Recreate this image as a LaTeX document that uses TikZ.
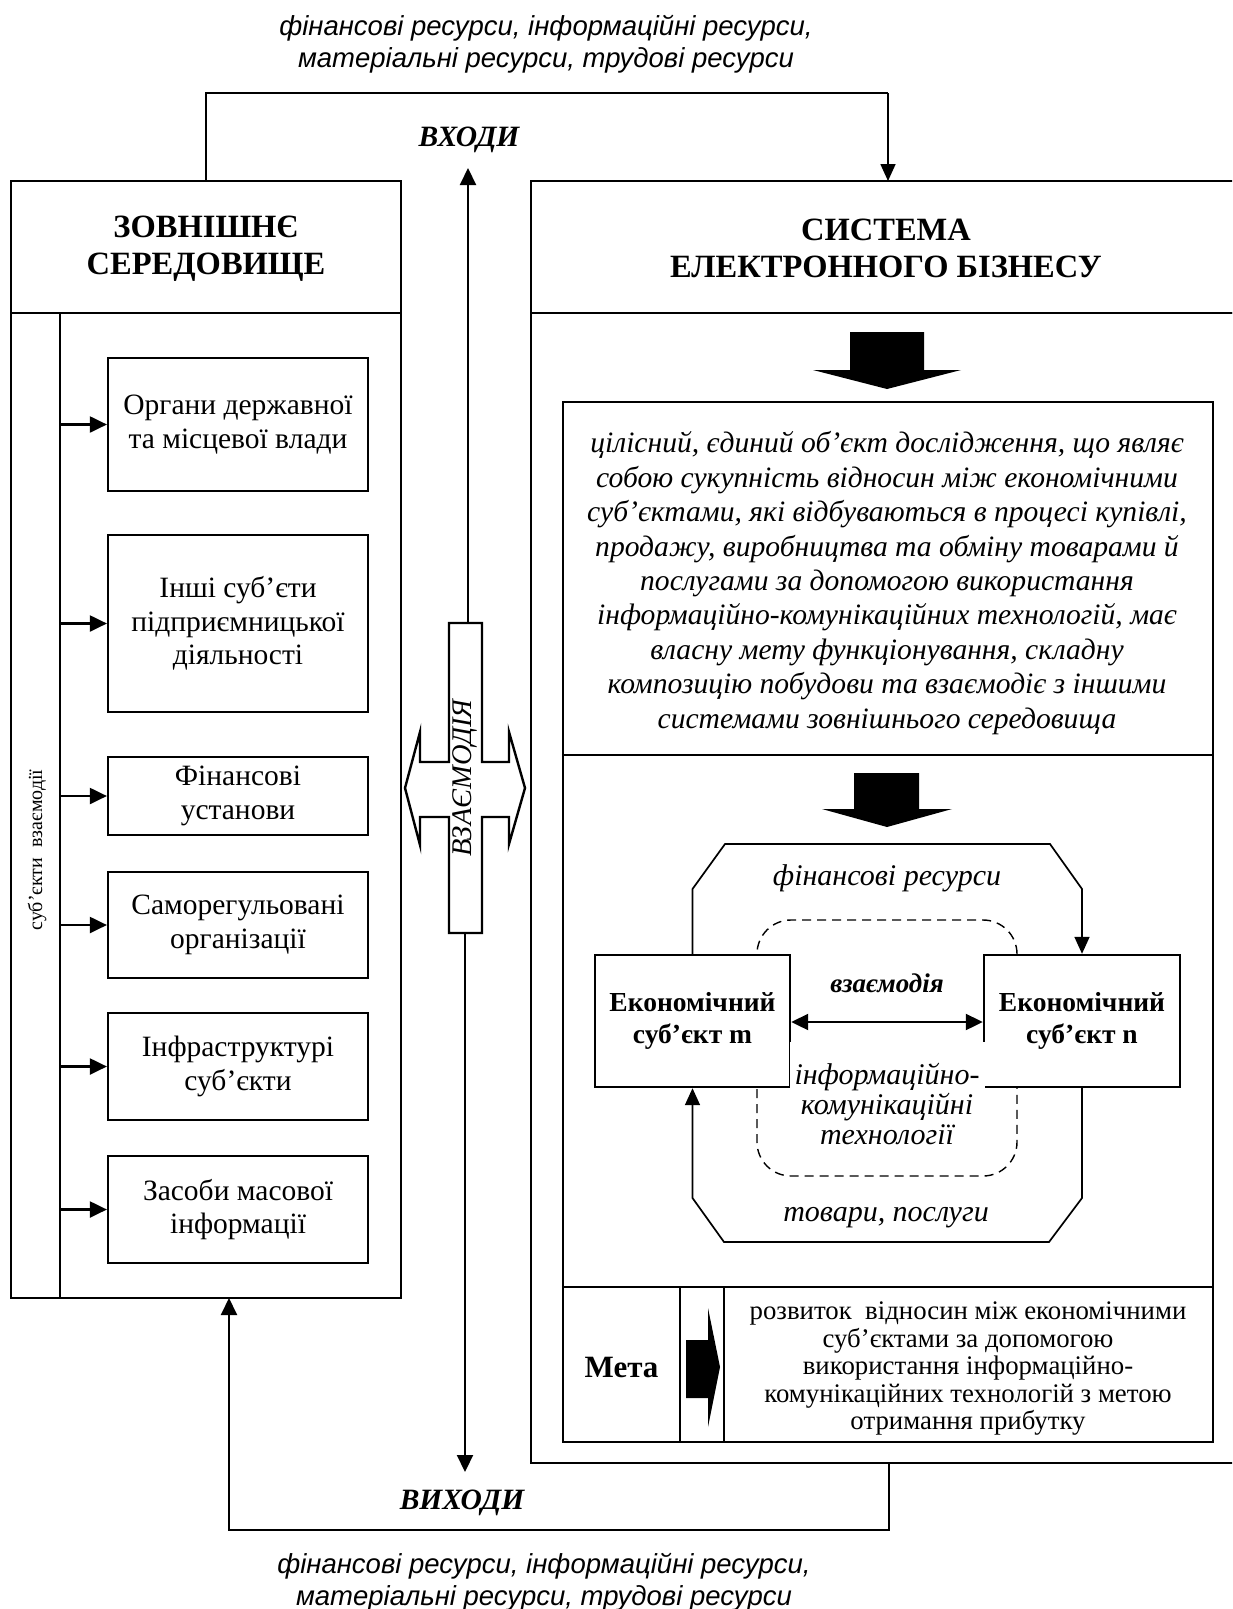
\documentclass[tikz,border=0pt]{standalone}
\usepackage{fontspec}
\setmainfont{Liberation Serif}
\newfontfamily\sansf{Liberation Sans}
\usetikzlibrary{arrows.meta}
\begin{document}
\begin{tikzpicture}[x=1pt,y=-1pt,
  every node/.style={inner sep=0pt, align=center},
  outerbox/.style={draw, line width=2.6pt, minimum width=#1},
  outerbox/.default=390pt,
  ibox/.style={draw, line width=2.2pt, fill=white},
  conn/.style={line width=2.1pt},
  thinconn/.style={line width=1.7pt},
  arr/.style={conn, -{Triangle[length=17pt,width=16pt]}},
  thinarr/.style={thinconn, -{Triangle[length=17pt,width=15pt]}},
  darr/.style={conn, {Triangle[length=17pt,width=16pt]}-{Triangle[length=17pt,width=16pt]}},
  ressf/.style={font=\sansf\itshape\fontsize{27.5}{32.5}\selectfont},
  hdr/.style={font=\bfseries\fontsize{32.5}{37}\selectfont},
  flow/.style={font=\bfseries\itshape\fontsize{29.5}{32}\selectfont},
  envtxt/.style={font=\fontsize{29.5}{33.5}\selectfont},
  desc/.style={font=\itshape\fontsize{29.6}{34.4}\selectfont},
  econ/.style={font=\bfseries\fontsize{27.5}{32}\selectfont},
  lbl/.style={font=\itshape\fontsize{30}{30}\selectfont},
  goal/.style={font=\fontsize{26.8}{27.5}\selectfont},
  bigarrow/.style={fill=black}
]
\useasboundingbox (0,0) rectangle (1232,1609);
\clip (0,0) rectangle (1232,1609);

% ---------- top / bottom resource texts ----------
\node[ressf] (resin) at (546,44) {фінансові ресурси, інформаційні ресурси,\\матеріальні ресурси, трудові ресурси};
\node[ressf] (resout) at (544,1582) {фінансові ресурси, інформаційні ресурси,\\матеріальні ресурси, трудові ресурси};

% ---------- left panel: external environment ----------
\node[outerbox, minimum height=132pt] (envhead) at (206,247) {};
\node[outerbox, minimum height=985pt] (envbody) at (206,805.5) {};
\node[hdr] (envtitle) at (206,248.5) {ЗОВНІШНЄ\\СЕРЕДОВИЩЕ};
\coordinate (spine top) at (60,313);
\coordinate (spine bot) at (60,1298);
\draw[line width=2.4pt] (spine top) -- (spine bot);
\node[font=\fontsize{20}{22}\selectfont, rotate=90] (subj) at (37,850) {суб’єкти\ \ взаємодії};

\node[ibox, envtxt, minimum width=260pt, minimum height=133pt] (b1) at (238,424.5) {Органи державної\\та місцевої влади};
\node[ibox, envtxt, minimum width=260pt, minimum height=177pt] (b2) at (238,623.5) {Інші суб’єти\\підприємницької\\діяльності};
\node[ibox, envtxt, minimum width=260pt, minimum height=78pt] (b3) at (238,796) {Фінансові\\установи};
\node[ibox, envtxt, minimum width=260pt, minimum height=106pt] (b4) at (238,925) {Саморегульовані\\організації};
\node[ibox, envtxt, minimum width=260pt, minimum height=107pt] (b5) at (238,1066.5) {Інфраструктурі\\суб’єкти};
\node[ibox, envtxt, minimum width=260pt, minimum height=107pt] (b6) at (238,1209.5) {Засоби масової\\інформації};
\foreach \b in {b1,b2,b3,b4,b5,b6}{
  \draw[arr] (spine top |- \b.west) -- (\b.west);
}

% ---------- right panel: e-business system ----------
\node[outerbox=719pt, minimum height=132pt] (syshead) at (890.5,247) {};
\node[outerbox=719pt, minimum height=1150pt] (sysbody) at (890.5,888) {};
\node[hdr] (systitle) at (886,248.5) {СИСТЕМА\\ЕЛЕКТРОННОГО БІЗНЕСУ};

\node[draw, line width=2.4pt, minimum width=650pt, minimum height=1040pt] (inner) at (888,922) {};
\draw[line width=2.4pt] (inner.west |- 0,755) coordinate (sepA) -- (inner.east |- 0,755);
\draw[line width=2.4pt] (inner.west |- 0,1287) coordinate (sepB) -- (inner.east |- 0,1287);

\fill[bigarrow] (850,332) -- (924,332) -- (924,370) -- (961,370) -- (887,389) -- (813,370) -- (850,370) -- cycle;
\fill[bigarrow] (854,773) -- (919,773) -- (919,809) -- (952,809) -- (887,827) -- (822,809) -- (854,809) -- cycle;

\node[desc] (definition) at (887,583) {цілісний, єдиний об’єкт дослідження, що являє\\собою сукупність відносин між економічними\\суб’єктами, які відбуваються в процесі купівлі,\\продажу, виробництва та обміну товарами й\\послугами за допомогою використання\\інформаційно-комунікаційних технологій, має\\власну мету функціонування, складну\\композицію побудови та взаємодіє з іншими\\системами зовнішнього середовища};

% interaction scheme
\draw[line width=1.4pt, dashed, dash pattern=on 9pt off 6pt, rounded corners=34pt] (757,920) rectangle (1017,1176);
\node[ibox, econ, line width=2.4pt, minimum width=195pt, minimum height=132pt] (em) at (692.5,1021) {Економічний\\суб’єкт m};
\node[ibox, econ, line width=2.4pt, minimum width=196pt, minimum height=132pt] (en) at (1082,1021) {Економічний\\суб’єкт n};
\fill[white] (789.5,1042) rectangle (984.5,1165);
\node[font=\itshape\fontsize{30}{29.7}\selectfont] (ict) at (887,1104) {інформаційно-\\комунікаційні\\технології};
\node[font=\bfseries\itshape\fontsize{27}{30}\selectfont] (inter) at (887,983) {взаємодія};
\draw[darr] (em.east |- 0,1022) -- (en.west |- 0,1022);

\draw[thinarr] (em.north) -- (692.5,889) -- (725,844) -- (1050,844) -- (1082,889) -- (en.north);
\draw[thinarr] (en.south) -- (1082,1198) -- (1049,1242) -- (724,1242) -- (692.5,1198) -- (em.south);
\node[lbl] (fin) at (887,878) {фінансові ресурси};
\node[lbl] (goods) at (886,1218) {товари, послуги};

% goal row
\draw[line width=2.2pt] (680,1287) -- (680,1442);
\draw[line width=2.2pt] (724,1287) -- (724,1442);
\node[font=\bfseries\fontsize{31}{36}\selectfont] (meta) at (621.5,1367) {Мета};
\fill[bigarrow] (686,1340) -- (708,1340) -- (708,1308) -- (720,1367) -- (708,1427) -- (708,1398) -- (686,1398) -- cycle;
\node[goal] (goaltxt) at (968,1369) {розвиток\ \ відносин між економічними\\суб’єктами за допомогою\\використання інформаційно-\\комунікаційних технологій з метою\\отримання прибутку};

% ---------- middle: inputs / outputs / interaction ----------
\draw[line width=2.4pt] (449,623) -- (482,623) -- (482,762) -- (509,762) -- (509,732) -- (525,788) -- (509,844) -- (509,817) -- (482,817) -- (482,933) -- (449,933) -- (449,817) -- (420,817) -- (420,845) -- (405,788) -- (420,732) -- (420,762) -- (449,762) -- cycle;
\coordinate (crosstop) at (468,623);
\coordinate (crossbot) at (465,933);
\node[font=\itshape\fontsize{28.5}{30}\selectfont, rotate=90] (vz) at (465,778) {ВЗАЄМОДІЯ};
\coordinate (inend) at (468,168);
\coordinate (outend) at (465,1472);
\draw[arr] (crosstop) -- (inend);
\draw[arr] (crossbot) -- (outend);
\node[flow] (inlbl) at (469,140) {ВХОДИ};
\node[flow] (outlbl) at (462,1503) {ВИХОДИ};

% feedback loops
\coordinate (sysin) at (888,181);
\coordinate (sysout) at (889,1463);
\coordinate (envin) at (229,1298);
\draw[thinconn] (envhead.north) -- (206,93) -- (888,93);
\draw[thinarr] (888,93) -- (sysin);
\draw[arr] (sysout) -- (889,1530) -- (229,1530) -- (envin);
\end{tikzpicture}
\end{document}
